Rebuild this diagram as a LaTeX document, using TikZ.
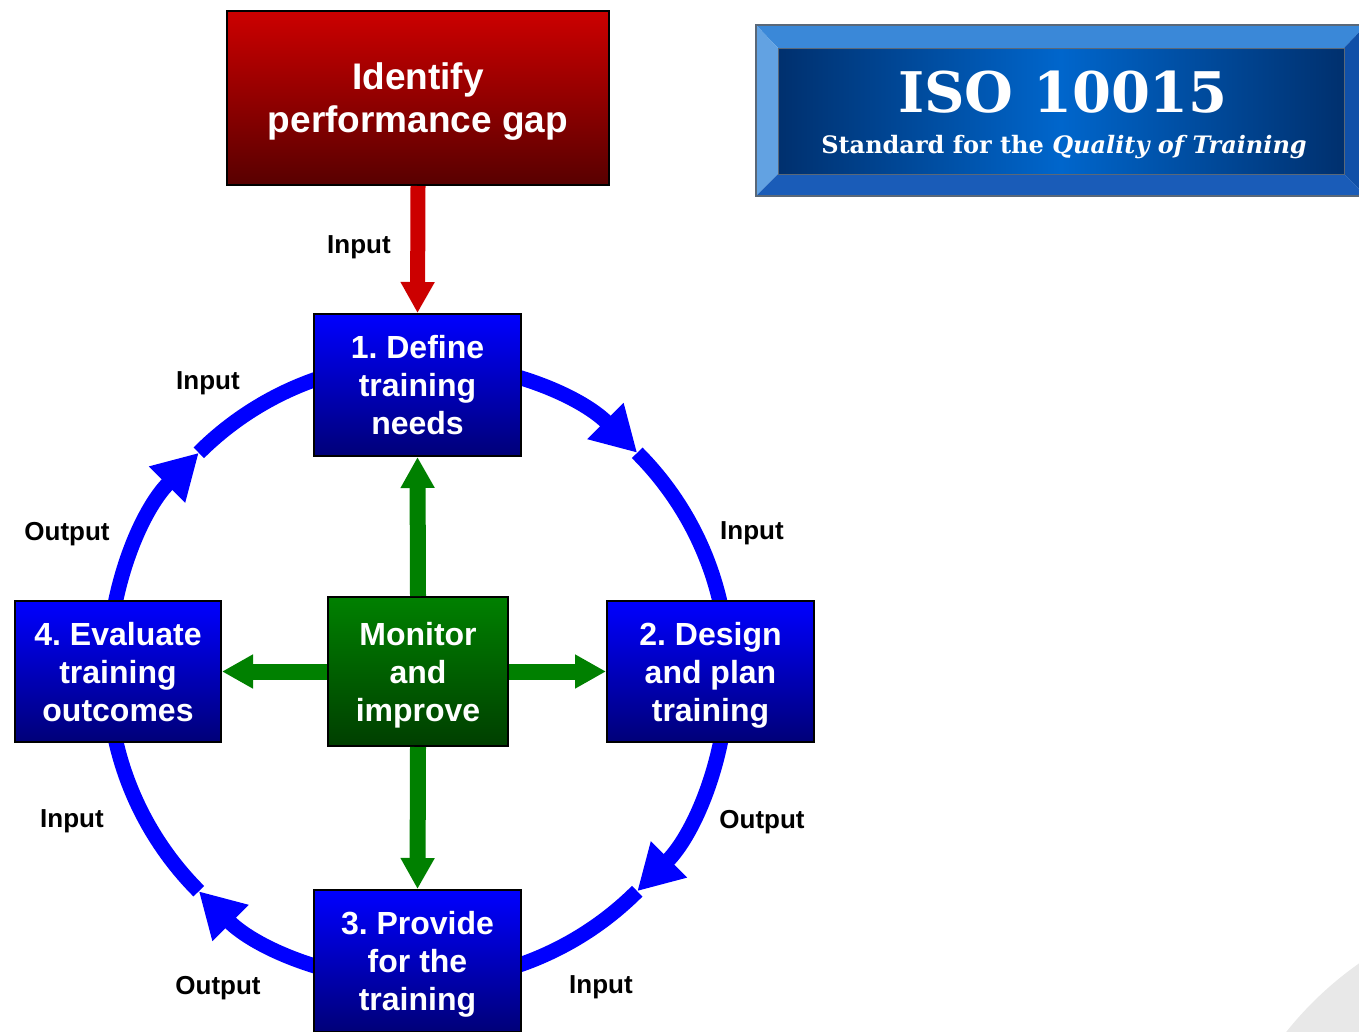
\documentclass[tikz,border=0pt]{standalone}
\usepackage{fontspec}
\setmainfont{Liberation Sans}
\newfontfamily\isofont{DejaVu Serif}
\usetikzlibrary{arrows.meta,backgrounds,calc}
\definecolor{bluetop}{HTML}{0000FF}
\definecolor{bluebot}{HTML}{000078}
\definecolor{greentop}{HTML}{008000}
\definecolor{greenbot}{HTML}{003F00}
\definecolor{redtop}{HTML}{CC0000}
\definecolor{redbot}{HTML}{580000}
\definecolor{arcblue}{HTML}{0000FF}
\definecolor{arrgreen}{HTML}{008000}
\definecolor{arrred}{HTML}{CC0000}
\definecolor{cornergray}{HTML}{E8E8E8}
\definecolor{bevtop}{HTML}{3A88D8}
\definecolor{bevleft}{HTML}{62A2E2}
\definecolor{bevbot}{HTML}{1A5CB8}
\definecolor{bevright}{HTML}{1050A8}
\definecolor{isoedge}{HTML}{00306E}
\definecolor{isomid}{HTML}{0066CC}
\definecolor{isoframe}{HTML}{5A6878}
\frenchspacing
\begin{document}
\begin{tikzpicture}[x=1pt,y=1pt,
  stepbox/.style={draw=black, line width=2pt, inner sep=0pt, align=center,
    text=white, text depth=0pt, font=\fontsize{32}{38}\selectfont\bfseries,
    top color=bluetop, bottom color=bluebot},
  monbox/.style={stepbox, top color=greentop, bottom color=greenbot},
  gapbox/.style={stepbox, top color=redtop, bottom color=redbot,
    font=\fontsize{37}{43}\selectfont\bfseries},
  lbl/.style={font=\fontsize{26}{30}\selectfont\bfseries, text=black, inner sep=0pt, text depth=0pt},
  garrow/.style={draw=arrgreen, line width=16pt, -{Triangle[length=31pt,width=32pt]}},
  rarrow/.style={draw=arrred, line width=15pt, -{Triangle[length=31pt,width=32pt]}},
  arcline/.style={draw=arcblue, line width=15pt},
  arcarrow/.style={arcline, -{Triangle[length=45pt,width=48pt]}}
]
\useasboundingbox (0,0) rectangle (1359,-1031);
\fill[cornergray] (1560,-1250) circle (350);

% ISO banner
\fill[bevtop] (756,-25) -- (1366,-25) -- (1344,-48) -- (778,-48) -- cycle;
\fill[bevleft] (756,-25) -- (778,-48) -- (778,-174) -- (756,-196) -- cycle;
\fill[bevbot] (756,-196) -- (778,-174) -- (1344,-174) -- (1366,-196) -- cycle;
\fill[bevright] (1366,-25) -- (1344,-48) -- (1344,-174) -- (1366,-196) -- cycle;
\node[draw=isoframe, line width=1pt, minimum width=566pt, minimum height=126pt, inner sep=0pt,
  left color=isoedge, right color=isoedge, middle color=isomid] (panel) at (1061,-111) {};
\draw[isoframe, line width=1.5pt] (756,-25) rectangle (1366,-196);
\node[text=white, font=\isofont\bfseries\fontsize{56}{60}\selectfont, inner sep=0pt] (isotitle) at (1063,-92) {ISO 10015};
\node[text=white, font=\isofont\bfseries\fontsize{24}{28}\selectfont, inner sep=0pt] (isosub) at (1064,-147) {Standard for the \textit{Quality of Training}};

% boxes
\node[gapbox, minimum width=382pt, minimum height=174pt] (gap) at (418,-98) {Identify\\performance gap};
\node[stepbox, minimum width=207pt, minimum height=142pt] (b1) at (417.5,-385) {1. Define\\training\\needs};
\node[stepbox, minimum width=207pt, minimum height=141pt] (b2) at (710.5,-671.5) {2. Design\\and plan\\training};
\node[stepbox, minimum width=207pt, minimum height=142pt] (b3) at (417.5,-961) {3. Provide\\for the\\training};
\node[stepbox, minimum width=206pt, minimum height=141pt] (b4) at (118,-671.5) {4. Evaluate\\training\\outcomes};
\node[monbox, minimum width=180pt, minimum height=149pt] (mon) at (418,-671.5) {Monitor\\and\\improve};

% arrows
\draw[rarrow] (gap.south) -- (b1.north);
\draw[garrow] (mon.north) -- (b1.south);
\draw[garrow] (mon.east) -- (b2.west);
\draw[garrow] (mon.south) -- (b3.north);
\draw[garrow] (mon.west) -- (b4.east);

\coordinate (c) at (418,-672);
\begin{scope}[on background layer]
\draw[arcarrow] ($(c)+(90:310)$) arc[start angle=90, end angle=45, radius=310];
\draw[arcline] ($(c)+(45:310)$) arc[start angle=45, end angle=0, radius=310];
\draw[arcarrow] ($(c)+(0:310)$) arc[start angle=0, end angle=-45, radius=310];
\draw[arcline] ($(c)+(-45:310)$) arc[start angle=-45, end angle=-90, radius=310];
\draw[arcarrow] ($(c)+(-90:310)$) arc[start angle=-90, end angle=-135, radius=310];
\draw[arcline] ($(c)+(-135:310)$) arc[start angle=-135, end angle=-180, radius=310];
\draw[arcarrow] ($(c)+(180:310)$) arc[start angle=180, end angle=135, radius=310];
\draw[arcline] ($(c)+(135:310)$) arc[start angle=135, end angle=90, radius=310];
\end{scope}

% labels
\node[lbl] (l0) at (359,-245) {Input};
\node[lbl] (l1) at (208,-381) {Input};
\node[lbl] (l2) at (67,-531) {Output};
\node[lbl] (l3) at (752,-531) {Input};
\node[lbl] (l4) at (72,-819) {Input};
\node[lbl] (l5) at (762,-819) {Output};
\node[lbl] (l6) at (218,-985) {Output};
\node[lbl] (l7) at (601,-985) {Input};
\end{tikzpicture}
\end{document}
